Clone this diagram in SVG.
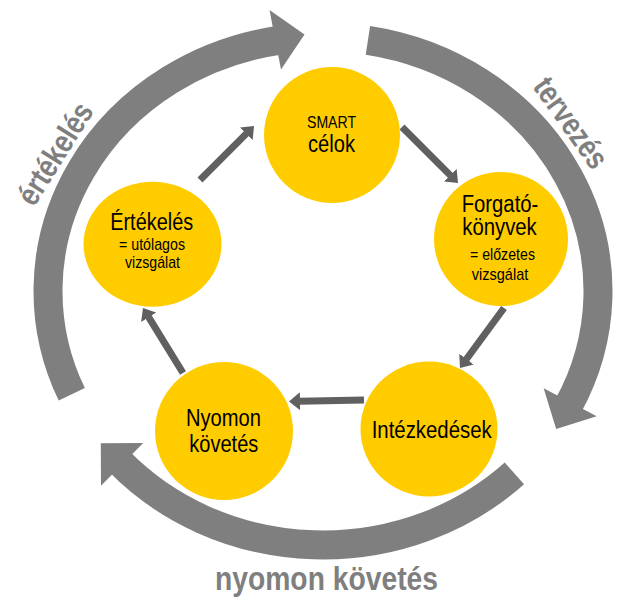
<svg xmlns="http://www.w3.org/2000/svg" width="618" height="597" viewBox="0 0 618 597">
  <style>
    .ring { fill: none; stroke: #7f7f7f; stroke-width: 29; stroke-linecap: butt; }
    .head { fill: #7f7f7f; }
    .node { fill: #ffcc00; }
    .conn { stroke: #606060; stroke-width: 7; stroke-linecap: butt; fill: none; marker-end: url(#arrow); }
    .t { font-family: "Liberation Sans Narrow", "Liberation Sans", Arial, sans-serif; fill: #000; text-anchor: middle; }
    .big { font-size: 23px; }
    .small { font-size: 17px; }
    .lbl { font-family: "Liberation Sans Narrow", "Liberation Sans", Arial, sans-serif; font-weight: bold; fill: #7f7f7f; text-anchor: middle; font-size: 32px; }
  </style>
  <defs>
    <marker id="arrow" markerUnits="userSpaceOnUse" viewBox="0 0 11 18" markerWidth="11" markerHeight="18" refX="0.5" refY="9" orient="auto">
      <path d="M0,0 L11,9 L0,18 z" fill="#606060"/>
    </marker>
  </defs>
  <rect width="618" height="597" fill="#ffffff"/>

  <!-- big cycle arrows -->
  <g id="cycle-arrows">
    <path class="ring" d="M 71.77 394.31 A 275 254 0 0 1 279.98 40.13"/>
    <polygon class="head" points="304.5,34.5 281,69.5 269.5,10"/>
    <path class="ring" d="M 367.92 40.41 A 275 254 0 0 1 568.03 406.31"/>
    <polygon class="head" points="556.16,428.88 596.70,416.36 543.64,388.34"/>
    <path class="ring" d="M 514.38 473.41 A 275 254 0 0 1 118.64 460.96"/>
    <polygon class="head" points="100.76,443.34 143.19,443.09 101.01,485.77"/>
  </g>

  <g id="cycle-labels">
    <text class="lbl" transform="translate(54,153) rotate(-58)" x="0" y="12" textLength="114" lengthAdjust="spacingAndGlyphs">értékelés</text>
    <text class="lbl" transform="translate(572,122) rotate(54.5)" x="0" y="12" textLength="104" lengthAdjust="spacingAndGlyphs">tervezés</text>
    <text class="lbl" x="326.5" y="590" style="font-size:34px" textLength="223" lengthAdjust="spacingAndGlyphs">nyomon követés</text>
  </g>

  <!-- connectors between nodes -->
  <g id="connectors">
    <line class="conn" x1="200" y1="180" x2="246.6" y2="133.4"/>
    <line class="conn" x1="402" y1="127" x2="450.6" y2="175.6"/>
    <line class="conn" x1="504" y1="308" x2="466.2" y2="359.5"/>
    <line class="conn" x1="364" y1="400" x2="299.5" y2="401.3"/>
    <line class="conn" x1="183" y1="373" x2="148.5" y2="316.9"/>
  </g>

  <g id="node-smart">
    <circle class="node" cx="332" cy="135" r="68"/>
    <text class="t small" x="331.5" y="128.3" textLength="49" lengthAdjust="spacingAndGlyphs">SMART</text>
    <text class="t big" x="331.5" y="151.7" textLength="47" lengthAdjust="spacingAndGlyphs">célok</text>
  </g>

  <g id="node-forgatokonyvek">
    <circle class="node" cx="501" cy="239" r="67"/>
    <text class="t big" x="500" y="212" textLength="76.7" lengthAdjust="spacingAndGlyphs">Forgató-</text>
    <text class="t big" x="499.5" y="235" textLength="74.5" lengthAdjust="spacingAndGlyphs">könyvek</text>
    <text class="t small" x="502.5" y="259.5" textLength="65" lengthAdjust="spacingAndGlyphs">= előzetes</text>
    <text class="t small" x="500" y="280" textLength="56.5" lengthAdjust="spacingAndGlyphs">vizsgálat</text>
  </g>

  <g id="node-intezkedesek">
    <ellipse class="node" cx="429" cy="429" rx="68.5" ry="67.5"/>
    <text class="t big" x="431.7" y="438.3" textLength="120" lengthAdjust="spacingAndGlyphs">Intézkedések</text>
  </g>

  <g id="node-nyomonkovetes">
    <circle class="node" cx="224" cy="431" r="69"/>
    <text class="t big" x="223.5" y="425.7" textLength="75" lengthAdjust="spacingAndGlyphs">Nyomon</text>
    <text class="t big" x="223.8" y="451.7" textLength="69" lengthAdjust="spacingAndGlyphs">követés</text>
  </g>

  <g id="node-ertekeles">
    <ellipse class="node" cx="152.5" cy="244.2" rx="69" ry="62.5"/>
    <text class="t big" x="151.7" y="229.5" textLength="83" lengthAdjust="spacingAndGlyphs">Értékelés</text>
    <text class="t small" x="152" y="250" textLength="66" lengthAdjust="spacingAndGlyphs">= utólagos</text>
    <text class="t small" x="152.5" y="268" textLength="55" lengthAdjust="spacingAndGlyphs">vizsgálat</text>
  </g>
</svg>
